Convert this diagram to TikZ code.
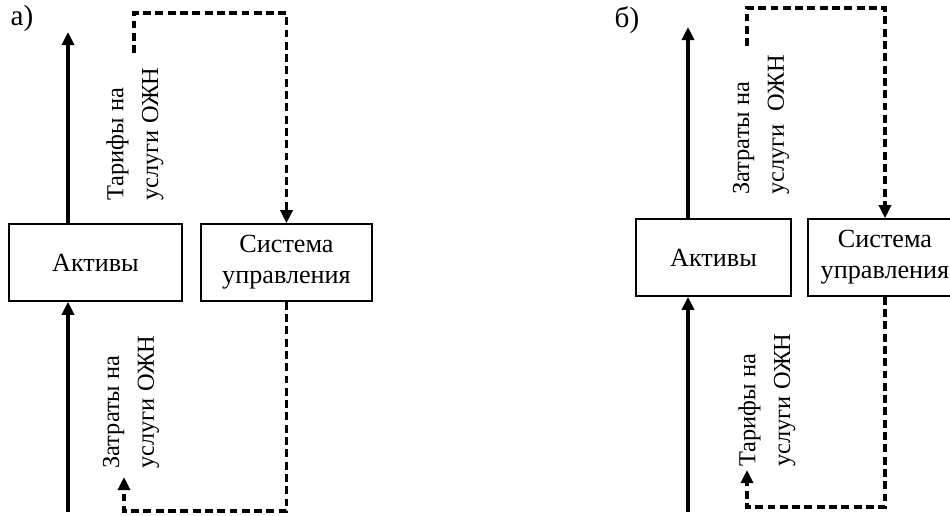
\documentclass[tikz,border=0pt]{standalone}
\usepackage{fontspec}
\setmainfont{Liberation Serif}
\usetikzlibrary{arrows.meta}

\tikzset{
  blok/.style={draw, line width=0.9pt, minimum height=1.54cm, align=center, inner sep=0pt},
  flow/.style={line width=2pt, -{Triangle[length=0.26cm,width=0.24cm]}},
  info/.style={flow, line width=1.9pt, dash pattern=on 4.5pt off 2.5pt},
  lbl/.style={rotate=90, align=left, font=\fontsize{13.9}{19.8}\selectfont},
  panelmark/.style={font=\fontsize{16.6}{20}\selectfont},
}

\begin{document}
\begin{tikzpicture}[x=0.02cm, y=-0.02cm, font=\fontsize{14.9}{17.6}\selectfont]

    \clip (0,0) rectangle (950,515);

    % --- Panel a ---
    \node[panelmark] (capA) at (22,18) {а)};
    \node[blok, minimum width=3.46cm] (aktA) at (95.5,262.5) {Активы};
    \node[blok, minimum width=3.42cm] (sysA) at (286.5,262.5) {Система\\управления};

    % free ends of the connectors
    \coordinate (upA) at (68,32);
    \coordinate (inA) at (68,512);
    \coordinate (a1) at (134,53);
    \coordinate (a2) at (134,13);
    \coordinate (a3) at (124,511);
    \coordinate (a4) at (124,477);

    % solid flows through the assets
    \draw[flow] (aktA.north -| upA) -- (upA);
    \draw[flow] (inA) -- (inA |- aktA.south);

    % dashed information loop
    \draw[info] (a1) -- (a2) -| (sysA.north);
    \draw[info] (sysA.south) |- (a3) -- (a4);

    \node[lbl] (tarA) at (135,134) {Тарифы на\\услуги ОЖН};
    \node[lbl] (zatA) at (131,402) {Затраты на\\услуги ОЖН};

    % --- Panel b ---
    \node[panelmark] (capB) at (627,20) {б)};
    \node[blok, minimum width=3.1cm] (aktB) at (713.5,257.5) {Активы};
    \node[blok, minimum width=3.08cm] (sysB) at (885,257.5) {Система\\управления};

    \coordinate (upB) at (688,27);
    \coordinate (inB) at (688,512);
    \coordinate (b1) at (747,46);
    \coordinate (b2) at (747,8);
    \coordinate (b3) at (747,507);
    \coordinate (b4) at (747,470);

    \draw[flow] (aktB.north -| upB) -- (upB);
    \draw[flow] (inB) -- (inB |- aktB.south);

    \draw[info] (b1) -- (b2) -| (sysB.north);
    \draw[info] (sysB.south) |- (b3) -- (b4);

    \node[lbl] (zatB) at (761,125) {Затраты на\\услуги\ \ ОЖН};
    \node[lbl] (tarB) at (767,400) {Тарифы на\\услуги ОЖН};

\end{tikzpicture}
\end{document}
